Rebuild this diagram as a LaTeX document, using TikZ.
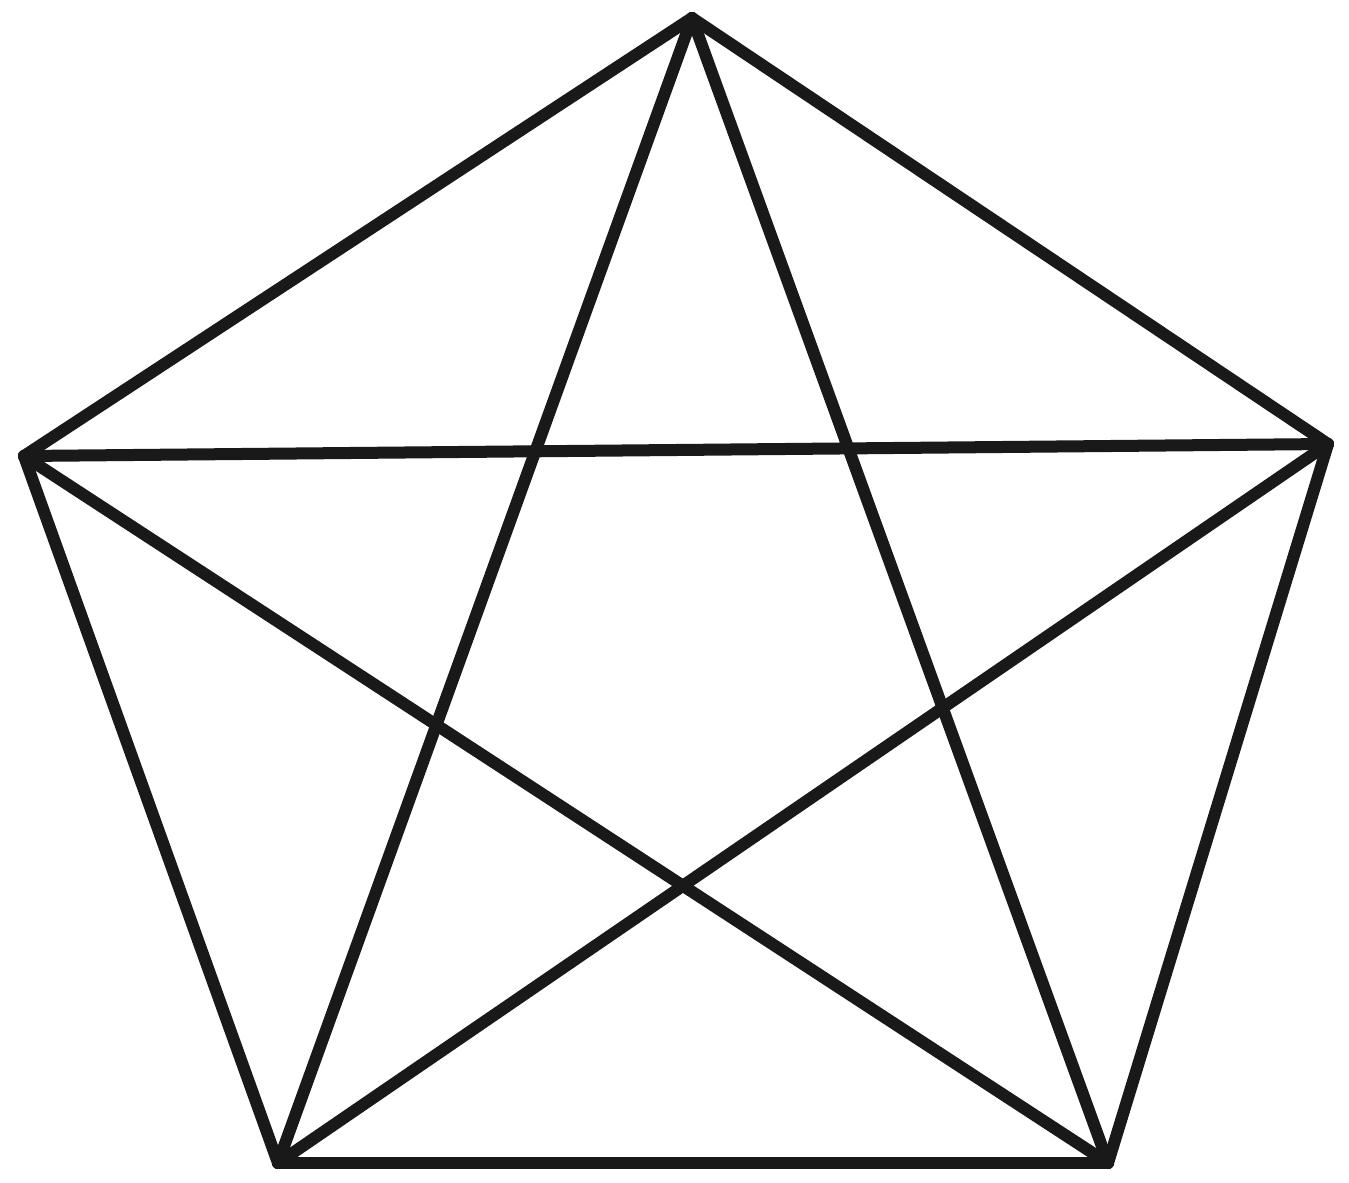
\documentclass[tikz,border=0pt]{standalone}
\begin{document}
\begin{tikzpicture}[x=0.01cm,y=-0.01cm,
  edge/.style={draw=black!90,line width=0.12cm,line join=round,line cap=round},
  vtx/.style={coordinate}]
\useasboundingbox (0,0) rectangle (1349,1182);
\node[vtx] (t) at (692,18) {};
\node[vtx] (l) at (24,456) {};
\node[vtx] (r) at (1328,444) {};
\node[vtx] (bl) at (278,1163) {};
\node[vtx] (br) at (1108,1163) {};
\draw[edge] (t) -- (l);
\draw[edge] (t) -- (r);
\draw[edge] (t) -- (bl);
\draw[edge] (t) -- (br);
\draw[edge] (l) -- (r);
\draw[edge] (l) -- (bl);
\draw[edge] (l) -- (br);
\draw[edge] (r) -- (bl);
\draw[edge] (r) -- (br);
\draw[edge] (bl) -- (br);
\end{tikzpicture}
\end{document}
